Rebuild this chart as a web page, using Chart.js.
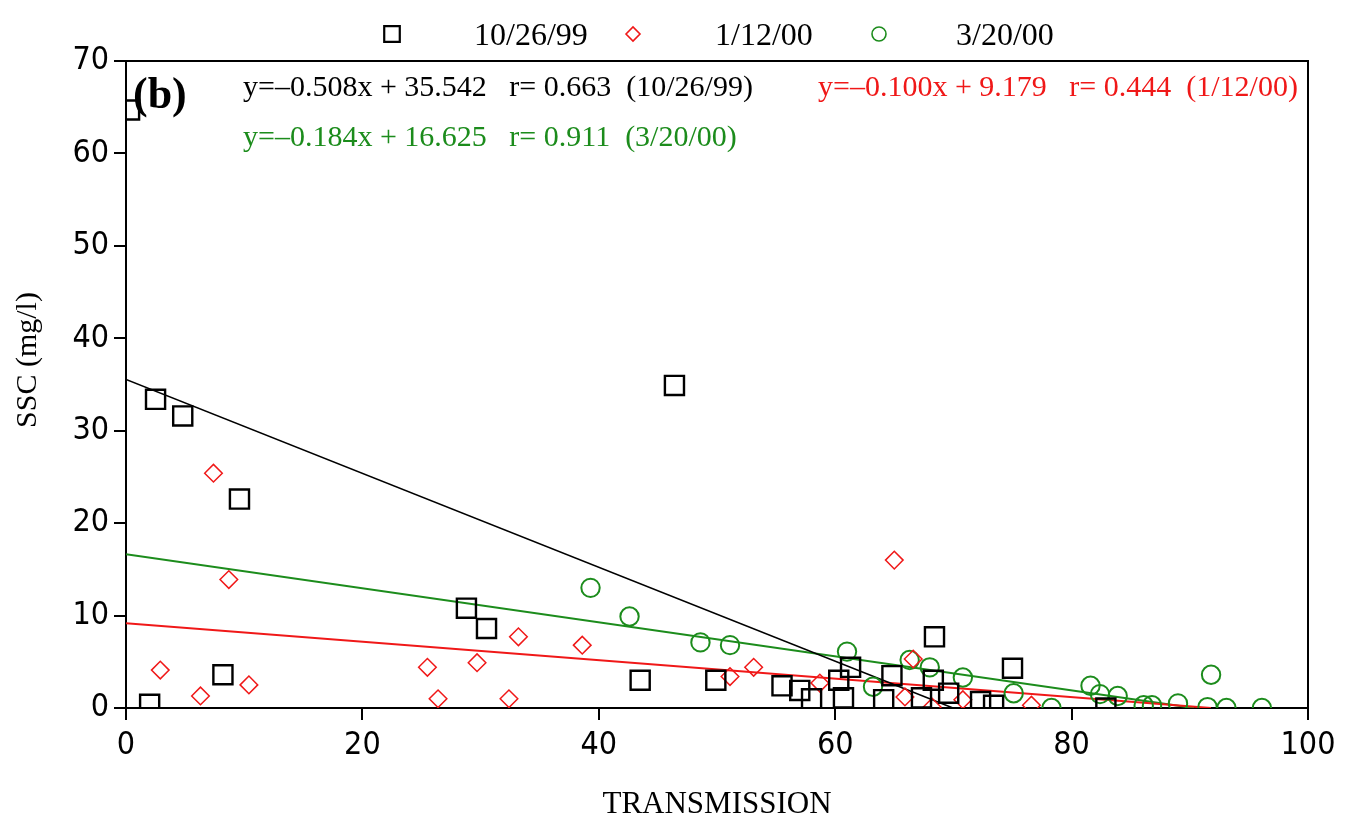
<!DOCTYPE html>
<html>
<head>
<meta charset="utf-8">
<script src="https://cdn.jsdelivr.net/npm/chart.js@4.4.1/dist/chart.umd.min.js"></script>
<style>
  html, body { margin: 0; padding: 0; background: #ffffff; }
  canvas { display: block; }
</style>
</head>
<body>
<canvas id="ssc" width="1347" height="820"></canvas>
<script>
// Sampling dates and how each one is drawn
const dates = ['10/26/99', '1/12/00', '3/20/00'];
const seriesColors = ['#000000', '#f01818', '#1c8c1c'];
const markerStyles = ['rect', 'rectRot', 'circle'];

// Transmission (%) vs suspended sediment concentration (mg/l)
const oct99 = [
  [0.3, 64.7], [2.0, 0.4], [2.5, 33.4], [4.8, 31.6], [8.2, 3.6], [9.6, 22.6],
  [28.8, 10.8], [30.5, 8.6], [43.5, 3.0], [46.4, 34.9], [49.9, 3.0],
  [55.5, 2.4], [57.0, 1.9], [58.0, 1.0], [60.3, 3.0], [60.7, 1.1], [61.3, 4.4],
  [64.1, 0.9], [64.8, 3.5], [67.3, 1.1], [68.3, 3.0], [68.4, 7.7], [69.6, 1.6],
  [72.3, 0.7], [73.4, 0.3], [75.0, 4.3], [82.9, 0.0]
];
const jan00 = [
  [2.9, 4.1], [6.3, 1.3], [7.4, 25.4], [8.7, 13.9], [10.4, 2.5], [25.5, 4.4],
  [26.4, 1.0], [29.7, 4.9], [32.4, 1.0], [33.2, 7.7], [38.6, 6.8], [51.1, 3.4],
  [53.1, 4.4], [58.7, 2.7], [65.0, 16.0], [65.9, 1.2], [66.6, 5.3], [68.2, 0.1],
  [70.8, 0.9], [76.6, 0.3]
];
const mar00 = [
  [39.3, 13.0], [42.6, 9.9], [48.6, 7.1], [51.1, 6.8], [61.0, 6.1], [63.2, 2.3],
  [66.3, 5.2], [68.0, 4.4], [70.8, 3.3], [75.1, 1.6], [78.3, 0.0], [81.6, 2.4],
  [82.4, 1.5], [83.9, 1.3], [86.1, 0.3], [86.8, 0.3], [89.0, 0.5], [91.5, 0.1],
  [91.8, 3.6], [93.1, 0.0], [96.1, 0.0]
];
const seriesPoints = [oct99, jan00, mar00];

// Least-squares fits, one per date
const slopes = [-0.508, -0.100, -0.184];
const intercepts = [35.542, 9.179, 16.625];
const rValues = [0.663, 0.444, 0.911];

// Axis ranges
const xRange = [0, 100];
const yRange = [0, 70];
const xStep = 20;
const yStep = 10;

const SERIF = '"Liberation Serif", "Times New Roman", serif';
const TICKFONT = '"Liberation Sans Narrow", "DejaVu Sans Condensed", "Liberation Sans", sans-serif';

function fitText(i) {
  const m = Math.abs(slopes[i]).toFixed(3);
  const b = intercepts[i].toFixed(3);
  return 'y=\u2013' + m + 'x + ' + b + '   r= ' + rValues[i].toFixed(3) + '  (' + dates[i] + ')';
}

// Fit line runs from x = 0 to where it crosses y = 0
function fitLine(i) {
  const xEnd = -intercepts[i] / slopes[i];
  return [{ x: 0, y: intercepts[i] }, { x: xEnd, y: 0 }];
}

const markerRadius = [13.5, 8.8, 9.2];
const markerBorder = [2.4, 1.5, 2];
const lineWidths = [1.6, 2, 2];

const datasets = [];
dates.forEach((d, i) => {
  datasets.push({
    type: 'line',
    label: d + ' fit',
    data: fitLine(i),
    borderColor: seriesColors[i],
    borderWidth: lineWidths[i],
    pointRadius: 0,
    fill: false,
    order: 2
  });
});
dates.forEach((d, i) => {
  datasets.push({
    type: 'scatter',
    label: d,
    data: seriesPoints[i].map(p => ({ x: p[0], y: p[1] })),
    pointStyle: markerStyles[i],
    pointRadius: markerRadius[i],
    pointBorderWidth: markerBorder[i],
    borderColor: seriesColors[i],
    backgroundColor: 'rgba(0,0,0,0)',
    order: 1
  });
});

// Frame on top and right, y title, legend row and fit equations
const decorations = {
  id: 'decorations',
  afterDraw(chart) {
    const ctx = chart.ctx;
    const a = chart.chartArea;
    ctx.save();
    ctx.strokeStyle = '#000';
    ctx.lineWidth = 2;
    ctx.beginPath();
    ctx.moveTo(a.left, a.top);
    ctx.lineTo(a.right, a.top);
    ctx.lineTo(a.right, a.bottom);
    ctx.stroke();

    // y axis title
    ctx.save();
    ctx.translate(28, 360);
    ctx.rotate(-Math.PI / 2);
    ctx.fillStyle = '#000';
    ctx.font = '30px ' + SERIF;
    ctx.textAlign = 'center';
    ctx.textBaseline = 'middle';
    ctx.fillText('SSC (mg/l)', 0, 0);
    ctx.restore();

    // legend
    const markerX = [392, 633, 879];
    const textX = [474, 715, 956];
    const ly = 34;
    const lr = [11, 7, 7];
    dates.forEach((d, i) => {
      ctx.strokeStyle = seriesColors[i];
      ctx.lineWidth = i === 0 ? 2.2 : 1.6;
      const x = markerX[i];
      ctx.beginPath();
      if (markerStyles[i] === 'rect') {
        const s = lr[i] * Math.SQRT1_2;
        ctx.rect(x - s, ly - s, 2 * s, 2 * s);
      } else if (markerStyles[i] === 'rectRot') {
        ctx.moveTo(x - lr[i], ly);
        ctx.lineTo(x, ly - lr[i]);
        ctx.lineTo(x + lr[i], ly);
        ctx.lineTo(x, ly + lr[i]);
        ctx.closePath();
      } else {
        ctx.arc(x, ly, lr[i], 0, Math.PI * 2);
      }
      ctx.stroke();
      ctx.fillStyle = '#000';
      ctx.font = '32px ' + SERIF;
      ctx.textAlign = 'left';
      ctx.textBaseline = 'alphabetic';
      ctx.fillText(d, textX[i], ly + 11);
    });

    // panel tag
    ctx.fillStyle = '#000';
    ctx.font = 'bold 44px ' + SERIF;
    ctx.fillText('(b)', a.left + 7, a.top + 47);

    // fit equations
    ctx.font = '30px ' + SERIF;
    const eqPos = [[a.left + 117, a.top + 35], [a.left + 692, a.top + 35], [a.left + 117, a.top + 85]];
    dates.forEach((d, i) => {
      ctx.fillStyle = seriesColors[i];
      ctx.fillText(fitText(i), eqPos[i][0], eqPos[i][1]);
    });
    ctx.restore();
  }
};

new Chart(document.getElementById('ssc'), {
  data: { datasets },
  options: {
    responsive: false,
    animation: false,
    events: [],
    layout: { padding: { top: 61, right: 39, left: 0, bottom: 0 } },
    plugins: { legend: { display: false }, tooltip: { enabled: false } },
    scales: {
      x: {
        type: 'linear',
        min: xRange[0],
        max: xRange[1],
        ticks: { stepSize: xStep, color: '#000', padding: 6, font: { family: TICKFONT, size: 32 } },
        grid: { drawOnChartArea: false, tickLength: 12, color: '#000', lineWidth: 2 },
        border: { color: '#000', width: 2 },
        title: { display: true, text: 'TRANSMISSION', color: '#000', font: { family: SERIF, size: 31, lineHeight: 1.0 }, padding: { top: 0, bottom: 0 } },
        afterFit(scale) { scale.height = 112; }
      },
      y: {
        type: 'linear',
        min: yRange[0],
        max: yRange[1],
        ticks: { stepSize: yStep, color: '#000', padding: 5, font: { family: TICKFONT, size: 32 } },
        grid: { drawOnChartArea: false, tickLength: 12, color: '#000', lineWidth: 2 },
        border: { color: '#000', width: 2 },
        title: { display: false },
        afterFit(scale) { scale.width = 126; }
      }
    }
  },
  plugins: [decorations]
});
</script>
</body>
</html>
